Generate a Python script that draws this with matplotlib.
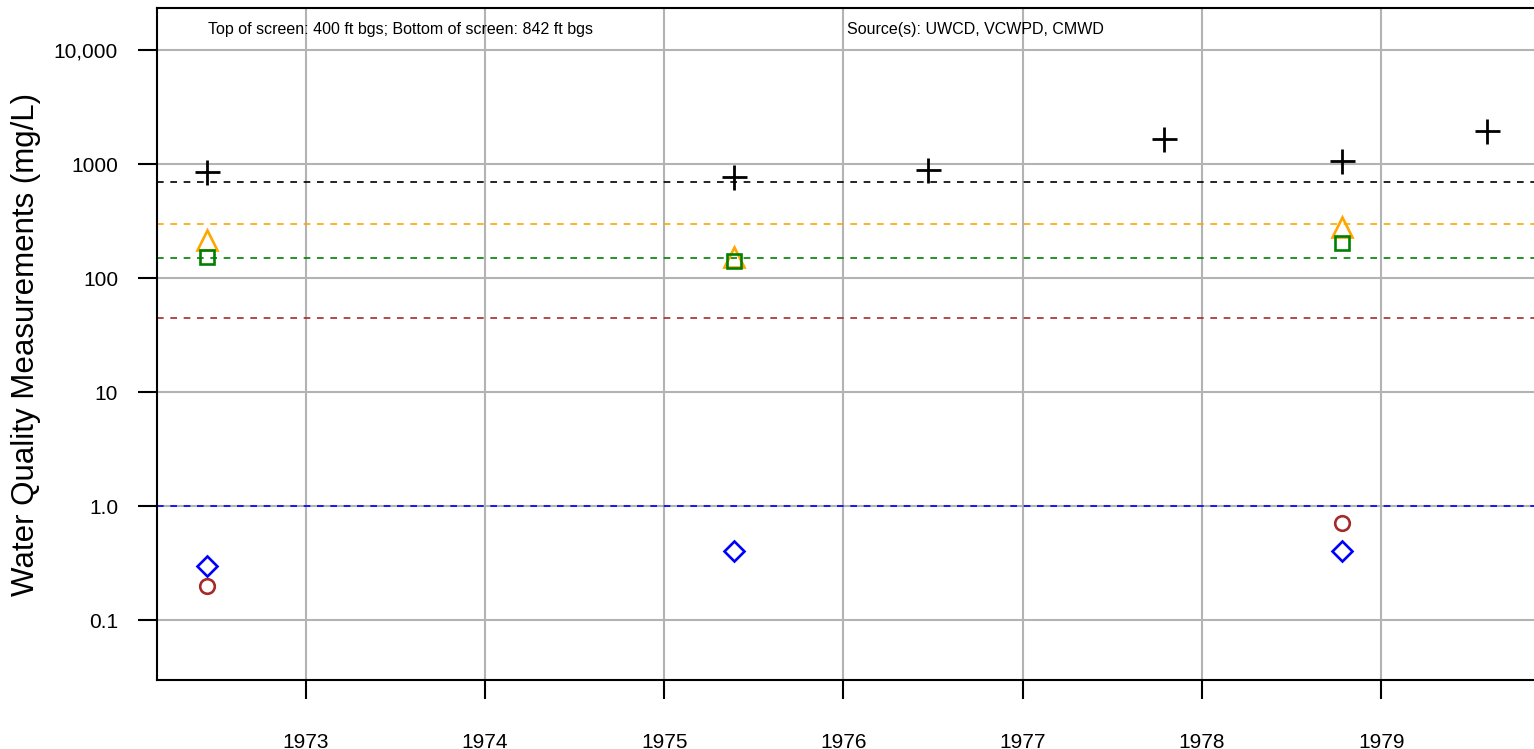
import matplotlib
matplotlib.use('Agg')
import matplotlib.pyplot as plt
from matplotlib.ticker import FixedLocator, FixedFormatter, NullLocator

plt.rcParams['font.family'] = ['Liberation Sans', 'DejaVu Sans']

# sample dates (decimal years) and measurements (mg/L)
tds_x = [1972.45, 1975.39, 1976.47, 1977.79, 1978.78, 1979.59]
tds_y = [850, 770, 880, 1650, 1060, 1950]

sulfate_x = [1972.45, 1975.39, 1978.78]
sulfate_y = [215, 153, 280]

chloride_x = [1972.45, 1975.39, 1978.78]
chloride_y = [152, 141, 203]

boron_x = [1972.45, 1975.39, 1978.78]
boron_y = [0.30, 0.40, 0.40]

nitrate_x = [1972.45, 1978.78]
nitrate_y = [0.20, 0.71]

# regulatory thresholds (mg/L)
thresholds = [700, 300, 150, 45, 1.0]
threshold_colors = ['black', 'orange', 'green', 'brown', 'blue']

year_ticks = [1973, 1974, 1975, 1976, 1977, 1978, 1979]
y_ticks = [0.1, 1, 10, 100, 1000, 10000]
y_labels = ['0.1', '1.0', '10', '100', '1000', '10,000']

fig = plt.figure(figsize=(15.34, 7.49), dpi=100)
ax = fig.add_axes([0.1023, 0.0921, 0.8977, 0.897])

ax.set_yscale('log')
ax.set_xlim(1972.169, 1979.853)
ax.set_ylim(0.0298, 23350)

ax.yaxis.set_major_locator(FixedLocator(y_ticks))
ax.yaxis.set_major_formatter(FixedFormatter(y_labels))
ax.yaxis.set_minor_locator(NullLocator())
ax.set_xticks(year_ticks)
ax.set_xticklabels([str(y) for y in year_ticks])

ax.grid(True, color='#b3b3b3', linewidth=1.5)
ax.set_axisbelow(True)

for val, c in zip(thresholds, threshold_colors):
    ax.axhline(val, color=c, linestyle=(0, (4, 4)), linewidth=1.2, zorder=2)

ax.plot(tds_x, tds_y, linestyle='none', marker='+', markersize=18,
        markeredgewidth=2, color='black', zorder=3)
ax.plot(sulfate_x, sulfate_y, linestyle='none', marker='^', markersize=14,
        markerfacecolor='none', markeredgewidth=1.9, markeredgecolor='orange', zorder=3)
ax.plot(chloride_x, chloride_y, linestyle='none', marker='s', markersize=10.5,
        markerfacecolor='none', markeredgewidth=1.9, markeredgecolor='green', zorder=3)
ax.plot(boron_x, boron_y, linestyle='none', marker='D', markersize=10,
        markerfacecolor='none', markeredgewidth=1.9, markeredgecolor='blue', zorder=3)
ax.plot(nitrate_x, nitrate_y, linestyle='none', marker='o', markersize=10.5,
        markerfacecolor='none', markeredgewidth=1.9, markeredgecolor='brown', zorder=3)

ax.spines['right'].set_visible(False)
for s in ['left', 'top', 'bottom']:
    ax.spines[s].set_linewidth(1.5)

ax.tick_params(axis='both', length=14, width=1.5, labelsize=15)
ax.tick_params(axis='x', pad=24)
ax.tick_params(axis='y', pad=14)

ax.set_ylabel('Water Quality Measurements (mg/L)', fontsize=22.5, labelpad=9)

ax.text(0.037, 0.968, 'Top of screen: 400 ft bgs; Bottom of screen: 842 ft bgs',
        transform=ax.transAxes, fontsize=11.5, va='center', ha='left')
ax.text(0.501, 0.968, 'Source(s): UWCD, VCWPD, CMWD',
        transform=ax.transAxes, fontsize=11.5, va='center', ha='left')

fig.savefig('out.png', dpi=100)
